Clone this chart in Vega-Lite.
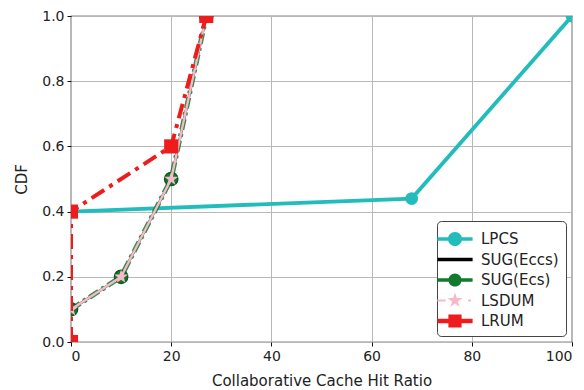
{
  "$schema": "https://vega.github.io/schema/vega-lite/v6.json",
  "width": 501,
  "height": 326,
  "autosize": "none",
  "padding": {"left": 71, "top": 16, "right": 12, "bottom": 48},
  "background": "white",
  "config": {
    "font": "DejaVu Sans",
    "view": {"stroke": "#111", "strokeWidth": 1.2},
    "axis": {
      "grid": true, "gridColor": "#b8b8b8", "gridWidth": 1,
      "domain": false, "tickColor": "#111", "tickSize": 4, "tickWidth": 1,
      "labelFontSize": 14, "labelColor": "#222", "titleFontSize": 15,
      "titleFontWeight": "normal", "titleColor": "#222", "labelPadding": 3
    }
  },
  "data": {"values": [
    {"series": "LPCS", "x": 0, "y": 0.4, "o": 1},
    {"series": "LPCS", "x": 68, "y": 0.44, "o": 2},
    {"series": "LPCS", "x": 100, "y": 1.0, "o": 3},
    {"series": "SUG(Eccs)", "x": 0, "y": 0.1, "o": 1},
    {"series": "SUG(Eccs)", "x": 10, "y": 0.2, "o": 2},
    {"series": "SUG(Eccs)", "x": 20, "y": 0.5, "o": 3},
    {"series": "SUG(Eccs)", "x": 27, "y": 1.0, "o": 4},
    {"series": "SUG(Ecs)", "x": 0, "y": 0.1, "o": 1},
    {"series": "SUG(Ecs)", "x": 10, "y": 0.2, "o": 2},
    {"series": "SUG(Ecs)", "x": 20, "y": 0.5, "o": 3},
    {"series": "SUG(Ecs)", "x": 27, "y": 1.0, "o": 4},
    {"series": "LSDUM", "x": 0, "y": 0.1, "o": 1},
    {"series": "LSDUM", "x": 10, "y": 0.2, "o": 2},
    {"series": "LSDUM", "x": 20, "y": 0.5, "o": 3},
    {"series": "LSDUM", "x": 27, "y": 1.0, "o": 4},
    {"series": "LRUM", "x": 0, "y": 0.0, "o": 1},
    {"series": "LRUM", "x": 0, "y": 0.4, "o": 2},
    {"series": "LRUM", "x": 20, "y": 0.6, "o": 3},
    {"series": "LRUM", "x": 27, "y": 1.0, "o": 4}
  ]},
  "encoding": {
    "x": {"field": "x", "type": "quantitative", "scale": {"domain": [0, 100], "nice": false},
      "axis": {"values": [0, 20, 40, 60, 80, 100], "title": "Collaborative Cache Hit Ratio", "titlePadding": 10}},
    "y": {"field": "y", "type": "quantitative", "scale": {"domain": [0, 1], "nice": false},
      "axis": {"values": [0, 0.2, 0.4, 0.6, 0.8, 1.0], "format": ".1f", "title": "CDF", "titlePadding": 12}},
    "order": {"field": "o", "type": "quantitative"},
    "color": {"field": "series", "type": "nominal",
      "scale": {"domain": ["LPCS", "SUG(Eccs)", "SUG(Ecs)", "LSDUM", "LRUM"],
                "range": ["#22bcbc", "#000000", "#127a2e", "#f7b9c9", "#ee1c1c"]},
      "legend": {
        "title": null, "orient": "bottom-right", "offset": 6,
        "fillColor": "white", "strokeColor": "#444", "cornerRadius": 4, "padding": 7,
        "labelFontSize": 15, "labelColor": "#222", "symbolSize": 484, "labelOffset": 15,
        "rowPadding": 1.5, "symbolStrokeWidth": 0,
        "encode": {"symbols": {"update": {
          "shape": {"signal": "datum.value === 'LPCS' ? 'M-1.6,-0.17H1.6V0.17H-1.6Z M0.64,0A0.64,0.64,0,1,1,-0.64,0A0.64,0.64,0,1,1,0.64,0Z' : datum.value === 'SUG(Eccs)' ? 'M-1.6,-0.16H1.6V0.16H-1.6Z' : datum.value === 'SUG(Ecs)' ? 'M-1.6,-0.17H1.6V0.17H-1.6Z M0.6,0A0.6,0.6,0,1,1,-0.6,0A0.6,0.6,0,1,1,0.6,0Z' : datum.value === 'LSDUM' ? 'M-1.6,-0.1H-0.85V0.1H-1.6Z M1.2,-0.1H1.45V0.1H1.2Z M0,-0.72L0.162,-0.222L0.685,-0.222L0.261,0.085L0.424,0.582L0,0.275L-0.424,0.582L-0.261,0.085L-0.685,-0.222L-0.162,-0.222Z' : 'M-1.6,-0.2H1.6V0.2H-1.6Z M-0.6,-0.6H0.6V0.6H-0.6Z'"},
          "fill": {"signal": "scale('color', datum.value)"},
          "stroke": {"value": "transparent"},
          "strokeWidth": {"value": 0},
          "strokeDash": {"value": []},
          "opacity": {"value": 1}
        }}}
      }
    }
  },
  "layer": [
    {
      "transform": [{"filter": "datum.series === 'LPCS'"}],
      "mark": {"type": "line", "clip": true, "strokeWidth": 3.8}
    },
    {
      "transform": [{"filter": "datum.series === 'LPCS'"}],
      "mark": {"type": "point", "filled": true, "clip": true, "opacity": 1, "shape": "circle", "size": 165}
    },
    {
      "transform": [{"filter": "datum.series === 'SUG(Eccs)'"}],
      "mark": {"type": "line", "clip": true, "strokeWidth": 2.5}
    },
    {
      "transform": [{"filter": "datum.series === 'SUG(Ecs)'"}],
      "mark": {"type": "line", "clip": true, "strokeWidth": 5, "strokeDash": [11, 4, 3, 4], "opacity": 0.85}
    },
    {
      "transform": [{"filter": "datum.series === 'SUG(Ecs)'"}],
      "mark": {"type": "point", "filled": true, "clip": true, "opacity": 1, "shape": "circle", "size": 175, "stroke": "#0a5a1e", "strokeWidth": 1.5}
    },
    {
      "transform": [{"filter": "datum.series === 'LSDUM'"}],
      "mark": {"type": "line", "clip": true, "strokeWidth": 2.4}
    },
    {
      "transform": [{"filter": "datum.series === 'LSDUM'"}],
      "mark": {"type": "point", "filled": true, "clip": true, "opacity": 1, "size": 220},
      "encoding": {
        "color": {"value": "#f9b8cb"},
        "shape": {"value": "M0,-1L0.2245,-0.309L0.951,-0.309L0.363,0.118L0.588,0.809L0,0.382L-0.588,0.809L-0.363,0.118L-0.951,-0.309L-0.2245,-0.309Z"}
      }
    },
    {
      "transform": [{"filter": "datum.series === 'LRUM'"}],
      "mark": {"type": "line", "clip": true, "strokeWidth": 4, "strokeDash": [15, 6, 4, 6]}
    },
    {
      "transform": [{"filter": "datum.series === 'LRUM'"}],
      "mark": {"type": "point", "filled": true, "clip": true, "opacity": 1, "shape": "square", "size": 200}
    }
  ]
}
